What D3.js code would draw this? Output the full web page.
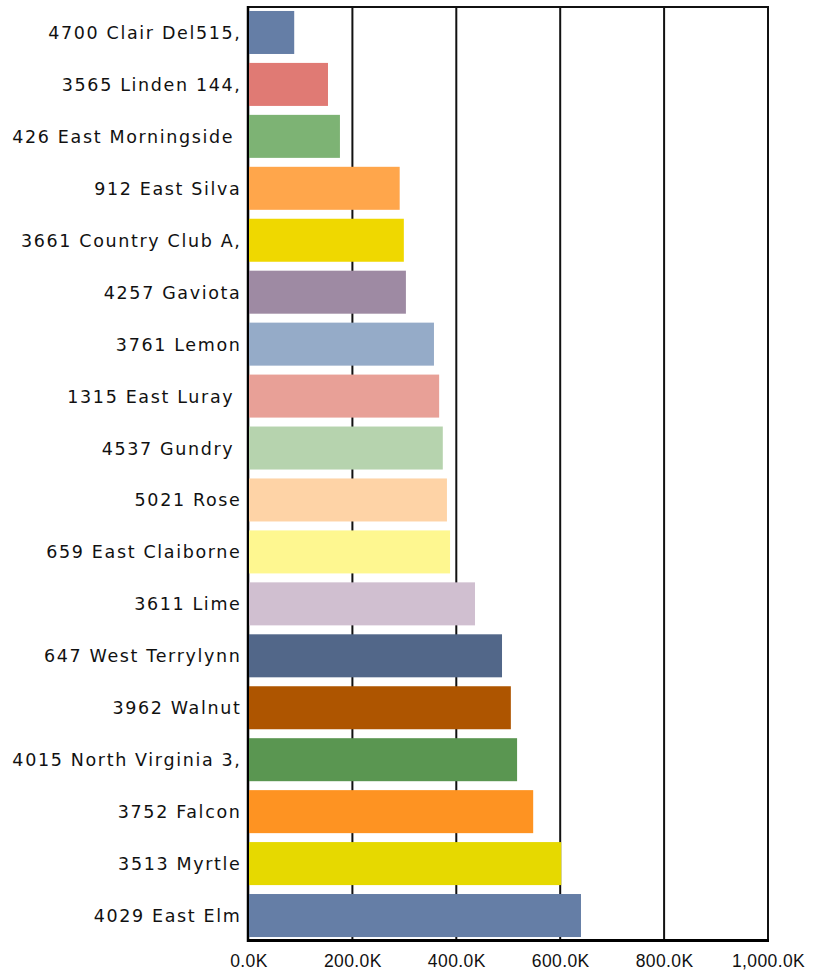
<!DOCTYPE html>
<html>
<head>
<meta charset="utf-8">
<script src="https://cdn.jsdelivr.net/npm/d3@7"></script>
<style>
  html, body { margin: 0; padding: 0; background: #fff; }
  svg { display: block; }
</style>
</head>
<body>
<svg id="chart" width="823" height="973"></svg>
<script>
const categories = [
  "4700 Clair Del515,", "3565 Linden 144,", "426 East Morningside ", "912 East Silva",
  "3661 Country Club A,", "4257 Gaviota", "3761 Lemon", "1315 East Luray ",
  "4537 Gundry ", "5021 Rose", "659 East Claiborne", "3611 Lime",
  "647 West Terrylynn", "3962 Walnut", "4015 North Virginia 3,", "3752 Falcon",
  "3513 Myrtle", "4029 East Elm"
];
const values = [88, 153, 176, 291, 299, 303, 357, 367, 374, 382, 388, 436, 488, 505, 517, 548, 602, 640];
const barColors = [
  "#657ea6", "#e07a74", "#7db374", "#ffa64b", "#efd800", "#9e8aa3",
  "#95abc8", "#e8a097", "#b6d3ae", "#fed3a6", "#fef790", "#d0bfd0",
  "#526789", "#ae5500", "#5a9651", "#fe9322", "#e6d900", "#657ea6"
];
const tickValues = [0, 200, 400, 600, 800, 1000];

(function () {
const svg = d3.select("#chart");
const pLeft = 248.5, pRight = 768, pTop = 6.5, pBottom = 941.5;

const x = d3.scaleLinear().domain([0, 1000]).range([pLeft, pRight]);
const y = d3.scaleBand().domain(categories).range([pTop, pBottom])
  .paddingInner(0.172).paddingOuter(0.086);

// gridlines
svg.append("g").selectAll("line").data(tickValues.slice(1))
  .join("line")
  .attr("x1", d => x(d)).attr("x2", d => x(d))
  .attr("y1", 7).attr("y2", 940)
  .attr("stroke", "#111").attr("stroke-width", 2);

// top border
svg.append("line").attr("x1", pLeft - 1).attr("x2", pRight + 1)
  .attr("y1", 7).attr("y2", 7).attr("stroke", "#111").attr("stroke-width", 2);

// left axis line
svg.append("line").attr("x1", 248).attr("x2", 248)
  .attr("y1", 6).attr("y2", 942).attr("stroke", "#000").attr("stroke-width", 2.5);

// bars
svg.append("g").selectAll("rect").data(categories)
  .join("rect")
  .attr("x", x(0) + 0.5)
  .attr("y", d => y(d))
  .attr("width", (d, i) => x(values[i]) - x(0) - 0.5)
  .attr("height", y.bandwidth())
  .attr("fill", (d, i) => barColors[i]);

// bottom axis line
svg.append("line").attr("x1", 247).attr("x2", pRight + 1)
  .attr("y1", 940.5).attr("y2", 940.5).attr("stroke", "#000").attr("stroke-width", 3);

// category labels
svg.append("g").selectAll("text").data(categories)
  .join("text")
  .attr("x", 241.5)
  .attr("y", d => y(d) + y.bandwidth() / 2 + 6.5)
  .attr("text-anchor", "end")
  .style("white-space", "pre")
  .attr("font-family", "DejaVu Sans, Verdana, sans-serif")
  .attr("font-size", 17.5)
  .attr("letter-spacing", 1.65)
  .attr("fill", "#111")
  .text(d => d);

// x axis tick labels
const xAxis = d3.axisBottom(x).tickValues(tickValues)
  .tickFormat(d => d3.format(",.1f")(d) + "K").tickSize(0).tickPadding(0);
const gx = svg.append("g").attr("transform", "translate(0,955)").call(xAxis);
gx.select(".domain").remove();
gx.selectAll("text")
  .attr("font-family", "'Liberation Sans', Arial, sans-serif")
  .attr("font-size", 17.5)
  .attr("letter-spacing", 0.4)
  .attr("fill", "#111");
})();
</script>
</body>
</html>
